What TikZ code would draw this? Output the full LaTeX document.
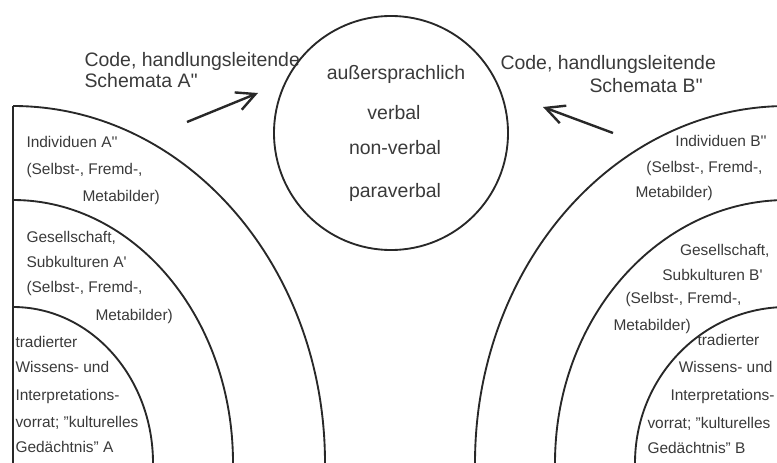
\documentclass[tikz,border=0pt]{standalone}
\usepackage{fontspec}
\setmainfont{Liberation Sans}
\usetikzlibrary{arrows.meta}

\definecolor{ink}{RGB}{58,58,58}
\definecolor{stroke}{RGB}{40,40,40}

\tikzset{every picture/.style={line width=0.75pt}}
\tikzset{
  ring/.style={draw=stroke, line width=1.4pt},
  flow/.style={draw=stroke, line width=1.8pt, -{Straight Barb[length=14pt,width=14pt,line width=1.8pt]}},
  bigtext/.style={inner sep=0pt, text=ink, font=\fontsize{14.6}{17}\selectfont},
  smalltext/.style={inner sep=0pt, text=ink, font=\fontsize{11.6}{14}\selectfont},
}
\newcommand{\qs}{\textquotesingle}

\begin{document}
\begin{tikzpicture}[x=0.75pt,y=0.75pt,yscale=-1,xscale=1]
\useasboundingbox (0,0) rectangle (777,463);

%Straight Lines [id:left border]
\draw [ring]   (13,106) -- (13,465) ;

%Shape: Arc [id:left rings]
\draw [ring]   (13,106) arc[start angle=-90, end angle=0, x radius=312, y radius=357] ;
\draw [ring]   (13,200) arc[start angle=-90, end angle=0, x radius=220, y radius=263] ;
\draw [ring]   (13,307) arc[start angle=-90, end angle=0, x radius=140, y radius=156] ;

%Shape: Arc [id:right rings]
\draw [ring]   (787,106) arc[start angle=-90, end angle=-180, x radius=312, y radius=357] ;
\draw [ring]   (787,200) arc[start angle=-90, end angle=-180, x radius=232, y radius=263] ;
\draw [ring]   (787,307) arc[start angle=-90, end angle=-180, x radius=152, y radius=156] ;

%Shape: Circle [id:medium]
\node [circle, ring, inner sep=0pt, minimum size=175.5pt] (medium) at (391,133) {} ;

% Text Node
\node [bigtext, anchor=base] (extra) at (396,80) {außersprachlich};
% Text Node
\node [bigtext, anchor=base] (verbal) at (394,120) {verbal};
% Text Node
\node [bigtext, anchor=base] (nonverbal) at (395,155) {non-verbal};
% Text Node
\node [bigtext, anchor=base] (paraverbal) at (395,198) {paraverbal};

% Text Node
\node [bigtext, anchor=base west] (codeA) at (84,67) {Code, handlungsleitende};
\node [bigtext, anchor=base west] (schemaA) at (84,88) {Schemata A\qs\qs};
% Text Node
\node [bigtext, anchor=base west] (codeB) at (500,70) {Code, handlungsleitende};
\node [bigtext, anchor=base west] (schemaB) at (589,93) {Schemata B\qs\qs};

%Straight Lines [id:arrows]
\coordinate (tailA) at (187,122);
\coordinate (headA) at (258,93);
\coordinate (tailB) at (613,133);
\coordinate (headB) at (543,107);
\draw [flow]   (tailA) -- (headA) ;
\draw [flow]   (tailB) -- (headB) ;

% Text Node -- left side
\node [smalltext, anchor=base west] (indA1) at (26,148) {Individuen A\qs\qs};
\node [smalltext, anchor=base west] (indA2) at (26,175) {(Selbst-, Fremd-,};
\node [smalltext, anchor=base west] (indA3) at (82,202) {Metabilder)};
\node [smalltext, anchor=base west] (gesA1) at (26,243) {Gesellschaft,};
\node [smalltext, anchor=base west] (gesA2) at (26,267) {Subkulturen A\qs};
\node [smalltext, anchor=base west] (gesA3) at (26,292) {(Selbst-, Fremd-,};
\node [smalltext, anchor=base west] (gesA4) at (95,320) {Metabilder)};
\node [smalltext, anchor=base west] (traA1) at (15,347) {tradierter};
\node [smalltext, anchor=base west] (traA2) at (15,372) {Wissens- und};
\node [smalltext, anchor=base west] (traA3) at (15,400) {Interpretations-};
\node [smalltext, anchor=base west] (traA4) at (15,427) {vorrat; "kulturelles};
\node [smalltext, anchor=base west] (traA5) at (15,452) {Gedächtnis" A};

% Text Node -- right side
\node [smalltext, anchor=base east] (indB1) at (767,147) {Individuen B\qs\qs};
\node [smalltext, anchor=base east] (indB2) at (763,173) {(Selbst-, Fremd-,};
\node [smalltext, anchor=base west] (indB3) at (635,198) {Metabilder)};
\node [smalltext, anchor=base east] (gesB1) at (770,255) {Gesellschaft,};
\node [smalltext, anchor=base east] (gesB2) at (763,280) {Subkulturen B\qs};
\node [smalltext, anchor=base west] (gesB3) at (625,303) {(Selbst-, Fremd-,};
\node [smalltext, anchor=base west] (gesB4) at (613,330) {Metabilder)};
\node [smalltext, anchor=base west] (traB1) at (697,345) {tradierter};
\node [smalltext, anchor=base east] (traB2) at (773,372) {Wissens- und};
\node [smalltext, anchor=base west] (traB3) at (670,400) {Interpretations-};
\node [smalltext, anchor=base west] (traB4) at (647,428) {vorrat; "kulturelles};
\node [smalltext, anchor=base west] (traB5) at (647,453) {Gedächtnis" B};

\end{tikzpicture}
\end{document}
